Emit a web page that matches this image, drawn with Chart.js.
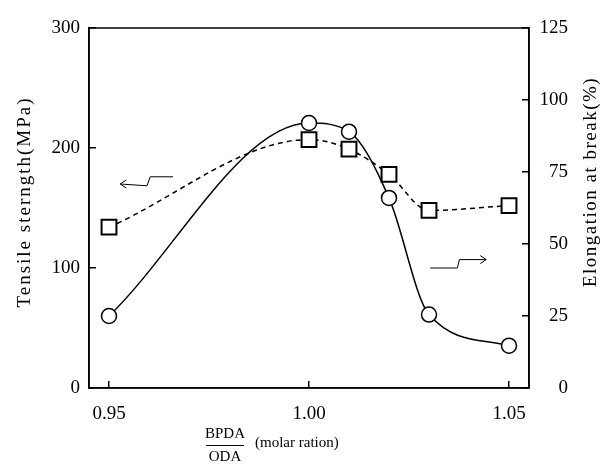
<!DOCTYPE html>
<html>
<head>
<meta charset="utf-8">
<script src="https://cdn.jsdelivr.net/npm/chart.js@4/dist/chart.umd.min.js"></script>
<style>
  html, body { margin: 0; padding: 0; background: #fff; }
  #wrap { width: 605px; height: 466px; }
</style>
</head>
<body>
<div id="wrap"><canvas id="chart"></canvas></div>
<script>
// ── BPDA/ODA ratio vs tensile strength & elongation ──

const ratio      = [0.95, 1.00, 1.01, 1.02, 1.03, 1.05];
const tensile    = [134, 207, 199, 178, 148, 152];      // MPa, left axis (squares, dashed)
const elongation = [25, 92, 89, 66, 25.5, 14.7];        // %, right axis (circles, solid)
const xTicks     = [0.95, 1.00, 1.05];
const leftTicks  = [0, 100, 200, 300];
const rightTicks = [0, 25, 50, 75, 100, 125];

// little zigzag arrows telling which axis each curve uses (data units, left axis)
const arrowToLeft  = [[0.9660, 176], [0.9603, 176], [0.9595, 168.5], [0.9528, 170]];
const arrowToRight = [[1.0303, 100], [1.0371, 100], [1.0376, 107], [1.0443, 107]];

const FONT = '"Liberation Serif", "Times New Roman", serif';

function zigzag(ctx, pts, sx, sy) {
  const p = pts.map(([vx, vy]) => [sx.getPixelForValue(vx), sy.getPixelForValue(vy)]);
  ctx.beginPath();
  ctx.moveTo(p[0][0], p[0][1]);
  p.slice(1).forEach(q => ctx.lineTo(q[0], q[1]));
  ctx.stroke();
  const [tx, ty] = p[p.length - 1];
  const dir = Math.sign(tx - p[p.length - 2][0]);
  ctx.beginPath();
  ctx.moveTo(tx - dir * 6, ty - 4);
  ctx.lineTo(tx, ty);
  ctx.lineTo(tx - dir * 6, ty + 4);
  ctx.stroke();
}

const extras = {
  id: 'extras',
  afterDraw(chart) {
    const { ctx, chartArea: a, scales: { x, y } } = chart;
    ctx.save();
    ctx.strokeStyle = '#000';
    ctx.lineWidth = 1.5;
    ctx.strokeRect(a.left, a.top, a.right - a.left, a.bottom - a.top);

    ctx.lineWidth = 1;
    zigzag(ctx, arrowToLeft, x, y);
    zigzag(ctx, arrowToRight, x, y);

    ctx.fillStyle = '#000';
    ctx.textBaseline = 'middle';
    ctx.textAlign = 'center';
    ctx.font = '19px ' + FONT;

    ctx.save();
    ctx.letterSpacing = '2px';
    ctx.translate(25, 202);
    ctx.rotate(-Math.PI / 2);
    ctx.fillText('Tensile sterngth(MPa)', 0, 0);
    ctx.restore();

    ctx.save();
    ctx.letterSpacing = '1.5px';
    ctx.translate(591, 182);
    ctx.rotate(-Math.PI / 2);
    ctx.fillText('Elongation at break(%)', 0, 0);
    ctx.restore();

    // x title: BPDA over ODA, then (molar ration)
    ctx.font = '15px ' + FONT;
    ctx.fillText('BPDA', 225, 434);
    ctx.fillText('ODA', 225, 457);
    ctx.beginPath();
    ctx.moveTo(206, 445.5);
    ctx.lineTo(244, 445.5);
    ctx.stroke();
    ctx.textAlign = 'left';
    ctx.fillText('(molar ration)', 255, 443);
    ctx.restore();
  }
};

const tickFont = { family: FONT, size: 19 };

new Chart(document.getElementById('chart').getContext('2d'), {
  type: 'line',
  data: {
    datasets: [
      {
        label: 'Tensile strength',
        data: ratio.map((r, i) => ({ x: r, y: tensile[i] })),
        yAxisID: 'y',
        borderColor: '#000', borderWidth: 1.5, borderDash: [5, 4],
        cubicInterpolationMode: 'monotone',
        pointStyle: 'rect', pointRadius: 10.5, pointBorderWidth: 2,
        pointBackgroundColor: '#fff', pointBorderColor: '#000'
      },
      {
        label: 'Elongation at break',
        data: ratio.map((r, i) => ({ x: r, y: elongation[i] })),
        yAxisID: 'y2',
        borderColor: '#000', borderWidth: 1.5,
        cubicInterpolationMode: 'monotone',
        pointStyle: 'circle', pointRadius: 7.5, pointBorderWidth: 1.5,
        pointBackgroundColor: '#fff', pointBorderColor: '#000'
      }
    ]
  },
  options: {
    responsive: true, maintainAspectRatio: false, animation: false,
    layout: { padding: { top: 28, right: 37, left: 0, bottom: 0 } },
    plugins: { legend: { display: false }, tooltip: { enabled: false } },
    scales: {
      x: {
        type: 'linear', min: 0.945, max: 1.055,
        afterBuildTicks: s => { s.ticks = xTicks.map(v => ({ value: v })); },
        afterFit: s => { s.height = 78; },
        grid: { drawOnChartArea: false, tickLength: -7, color: '#000', lineWidth: 1.5 },
        border: { color: '#000', width: 1.5 },
        ticks: { font: tickFont, color: '#000', padding: 22, maxRotation: 0, callback: v => v.toFixed(2) }
      },
      y: {
        position: 'left', min: 0, max: 300,
        afterBuildTicks: s => { s.ticks = leftTicks.map(v => ({ value: v })); },
        afterFit: s => { s.width = 89; },
        grid: { drawOnChartArea: false, tickLength: -7, color: '#000', lineWidth: 1.5 },
        border: { color: '#000', width: 1.5 },
        ticks: { font: tickFont, color: '#000', padding: 16 }
      },
      y2: {
        position: 'right', min: 0, max: 125,
        afterBuildTicks: s => { s.ticks = rightTicks.map(v => ({ value: v })); },
        afterFit: s => { s.width = 39; },
        grid: { drawOnChartArea: false, tickLength: -7, color: '#000', lineWidth: 1.5 },
        border: { color: '#000', width: 1.5 },
        ticks: { font: tickFont, color: '#000', crossAlign: 'far' }
      }
    }
  },
  plugins: [extras]
});
</script>
</body>
</html>
